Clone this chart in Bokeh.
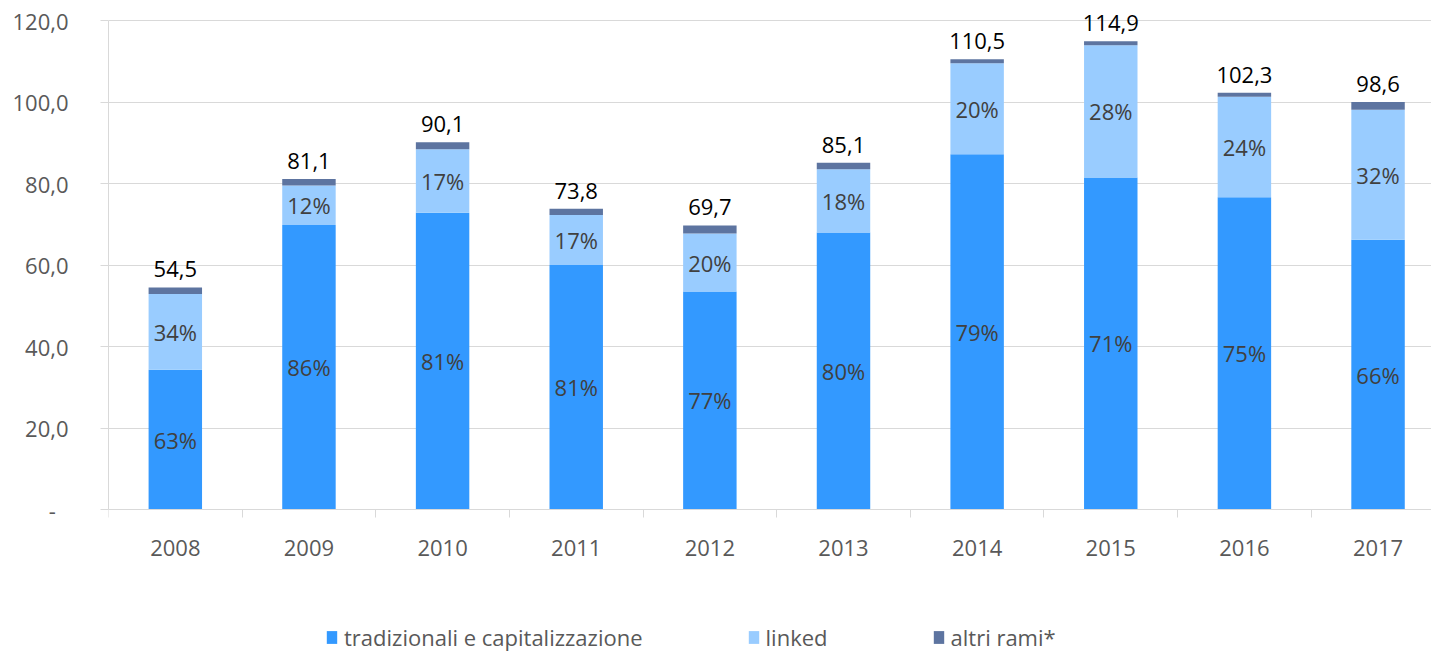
from bokeh.plotting import figure
from bokeh.models import ColumnDataSource, Range1d, FixedTicker
from bokeh.core.properties import value
from bokeh.embed import file_html
from bokeh.resources import INLINE

years = ["2008", "2009", "2010", "2011", "2012", "2013", "2014", "2015", "2016", "2017"]
tradizionali = [34.3, 69.8, 72.8, 60.0, 53.5, 68.0, 87.2, 81.5, 76.6, 66.2]
linked = [18.6, 9.7, 15.6, 12.3, 14.2, 15.5, 22.3, 32.4, 24.7, 31.9]
altri = [1.6, 1.6, 1.7, 1.5, 2.0, 1.6, 1.0, 1.0, 1.0, 1.9]
totali = [54.5, 81.1, 90.1, 73.8, 69.7, 85.1, 110.5, 114.9, 102.3, 98.6]
pct_trad = [63, 86, 81, 81, 77, 80, 79, 71, 75, 66]
pct_linked = [34, 12, 17, 17, 20, 18, 20, 28, 24, 32]
y_ticks = [0, 20, 40, 60, 80, 100, 120]
series_names = ["tradizionali e capitalizzazione", "linked", "altri rami*"]
colors = ["#3399FF", "#99CCFF", "#5D74A0"]

FONT = "Open Sans"
xs = list(range(len(years)))

source = ColumnDataSource(dict(
    x=xs, trad=tradizionali, linked=linked, altri=altri,
))

# frame spans the whole height; y=0 sits 145px above the bottom,
# y=120 sits 20px below the top
px_per_unit = 489 / 120
y_bottom = -145 / px_per_unit
y_top = 120 + 20 / px_per_unit

p = figure(width=1431, height=654, output_backend="svg", toolbar_location=None,
           x_range=Range1d(-0.5, 9.4), y_range=Range1d(y_bottom, y_top),
           min_border_left=108, min_border_right=0, min_border_top=0,
           min_border_bottom=0, background_fill_color="white",
           border_fill_color="white")
p.outline_line_color = None

renderers = p.vbar_stack(["trad", "linked", "altri"], x="x", width=0.4,
                         color=colors, line_color=None, source=source,
                         legend_label=series_names)

# value labels above bars
bar_tops = [t + l + a for t, l, a in zip(tradizionali, linked, altri)]
lab_src = ColumnDataSource(dict(
    x=xs, y=bar_tops,
    txt=[("%.1f" % v).replace(".", ",") for v in totali],
))
p.text(x="x", y="y", text="txt", source=lab_src, text_align="center",
       text_baseline="bottom", y_offset=-10, text_font=value(FONT),
       text_font_size="22px", text_color="#000000")

# percentage labels
pt_src = ColumnDataSource(dict(
    x=xs, y=[t / 2 for t in tradizionali],
    txt=["%d%%" % v for v in pct_trad],
))
p.text(x="x", y="y", text="txt", source=pt_src, text_align="center",
       text_baseline="middle", text_font=value(FONT), text_font_size="22px",
       text_color="#404040")
pl_src = ColumnDataSource(dict(
    x=xs, y=[t + l / 2 for t, l in zip(tradizionali, linked)],
    txt=["%d%%" % v for v in pct_linked],
))
p.text(x="x", y="y", text="txt", source=pl_src, text_align="center",
       text_baseline="middle", text_font=value(FONT), text_font_size="22px",
       text_color="#404040")

# axes
grey = "#D9D9D9"
p.xaxis.fixed_location = 0
p.xaxis.ticker = FixedTicker(ticks=xs, minor_ticks=[i - 0.5 for i in range(len(years) + 1)])
p.xaxis.major_label_overrides = {i: y for i, y in enumerate(years)}
p.xaxis.major_tick_out = 0
p.xaxis.major_tick_in = 0
p.xaxis.minor_tick_out = 8
p.xaxis.minor_tick_in = 0
p.xaxis.minor_tick_line_color = grey
p.xaxis.axis_line_color = grey
p.xaxis.major_label_text_font = FONT
p.xaxis.major_label_text_font_size = "22px"
p.xaxis.major_label_text_color = "#595959"
p.xaxis.major_label_standoff = 22

p.yaxis.ticker = FixedTicker(ticks=y_ticks)
p.yaxis.bounds = (0, 120)
p.yaxis.major_label_overrides = {v: ("-\u2007" if v == 0 else ("%.1f" % v).replace(".", ",")) for v in y_ticks}
p.yaxis.major_tick_out = 8
p.yaxis.major_tick_in = 0
p.yaxis.major_tick_line_color = grey
p.yaxis.minor_tick_line_color = None
p.yaxis.axis_line_color = grey
p.yaxis.major_label_text_font = FONT
p.yaxis.major_label_text_font_size = "22px"
p.yaxis.major_label_text_color = "#595959"
p.yaxis.major_label_standoff = 32

p.xgrid.grid_line_color = None
p.ygrid.grid_line_color = grey
p.ygrid.grid_line_width = 1

# legend
lg = p.legend[0]
lg.orientation = "horizontal"
lg.location = (217, 2)
lg.background_fill_alpha = 0
lg.border_line_color = None
lg.label_text_font = FONT
lg.label_text_font_size = "22px"
lg.label_text_color = "#595959"
lg.glyph_width = 13
lg.glyph_height = 16
lg.label_standoff = 6
lg.spacing = 104
lg.padding = 0
lg.margin = 0

open("out.html", "w").write(file_html(p, INLINE))
